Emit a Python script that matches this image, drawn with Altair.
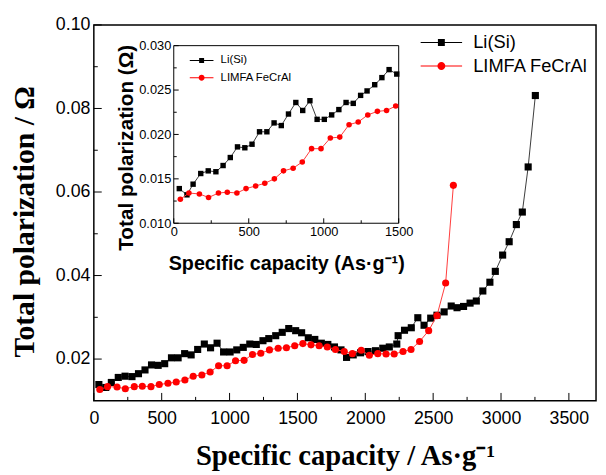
import altair as alt
import pandas as pd

# ---------------- data ----------------
series_names = ["Li(Si)", "LIMFA FeCrAl"]

li_cap = [37, 88, 129, 180, 230, 281, 329, 377, 425, 474,
          522, 572, 621, 669, 717, 765, 814, 860, 908, 956,
          1004, 1053, 1101, 1149, 1197, 1246, 1289, 1340, 1388, 1436,
          1487, 1531, 1580, 1628, 1676, 1724, 1773, 1821, 1862, 1911,
          1965, 2020, 2075, 2129, 2177, 2232, 2242, 2289, 2339, 2387,
          2433, 2482, 2528, 2581, 2633, 2676, 2724, 2772, 2818, 2866,
          2918, 2958, 3012, 3060, 3113, 3157, 3200, 3253]
li_pol = [0.0139, 0.0132, 0.0144, 0.0156, 0.0159, 0.0158, 0.0165, 0.0174, 0.0186, 0.0185,
          0.0189, 0.0203, 0.0203, 0.0213, 0.0210, 0.0223, 0.0236, 0.0227, 0.0238, 0.0217,
          0.0217, 0.0222, 0.0228, 0.0236, 0.0235, 0.0244, 0.0249, 0.0256, 0.0264, 0.0273,
          0.0268, 0.0263, 0.0251, 0.0247, 0.0238, 0.0235, 0.0229, 0.0222, 0.0204, 0.0210,
          0.0215, 0.0218, 0.0220, 0.0226, 0.0229, 0.0236, 0.0256, 0.0269, 0.0275, 0.0299,
          0.0281, 0.0298, 0.0305, 0.0313, 0.0327, 0.0323, 0.0326, 0.0334, 0.0339, 0.0363,
          0.0384, 0.0410, 0.0449, 0.0481, 0.0522, 0.0552, 0.0660, 0.0831]

lm_cap = [44, 101, 171, 232, 298, 357, 421, 482, 546, 607,
          671, 732, 796, 857, 919, 982, 1044, 1107, 1169, 1230,
          1294, 1358, 1419, 1480, 1540, 1600, 1660, 1720, 1780, 1845,
          1905, 1970, 2030, 2092, 2153, 2213, 2278, 2337, 2400, 2467,
          2528, 2592, 2649]
lm_pol = [0.0127, 0.0134, 0.0133, 0.0129, 0.0134, 0.0135, 0.0134, 0.0139, 0.0142, 0.0145,
          0.0150, 0.0159, 0.0162, 0.0169, 0.0184, 0.0184, 0.0196, 0.0197, 0.0211, 0.0214,
          0.0222, 0.0226, 0.0227, 0.0232, 0.0237, 0.0234, 0.0232, 0.0229, 0.0223, 0.0218,
          0.0213, 0.0221, 0.0209, 0.0213, 0.0212, 0.0212, 0.0218, 0.0223, 0.0242, 0.0268,
          0.0304, 0.0382, 0.0616]

main_x_domain = [0, 3700]
main_y_domain = [0.01, 0.10]
x_ticks_main = [0, 500, 1000, 1500, 2000, 2500, 3000, 3500]
x_minor_main = [250, 750, 1250, 1750, 2250, 2750, 3250]
y_ticks_main = [0.02, 0.04, 0.06, 0.08, 0.10]
y_minor_main = [0.03, 0.05, 0.07, 0.09]

inset_x_domain = [0, 1500]
inset_y_domain = [0.010, 0.030]
x_ticks_inset = [0, 500, 1000, 1500]
x_minor_inset = [250, 750, 1250]
y_ticks_inset = [0.010, 0.015, 0.020, 0.025, 0.030]
y_minor_inset = [0.0125, 0.0175, 0.0225, 0.0275]

# ---------------- layout / style ----------------
W, H = 509, 381
INSET_X_RANGE = [81, 309]
INSET_Y_RANGE = [201, 21]
BLACK, RED = "#000000", "#ff0000"
BLACK_LINE, RED_LINE = "#3a3a3a", "#ff3b3b"
SANS, SERIF = "Liberation Sans", "Liberation Serif"

df = pd.DataFrame({
    "cap": li_cap + lm_cap,
    "pol": li_pol + lm_pol,
    "series": [series_names[0]] * len(li_cap) + [series_names[1]] * len(lm_cap),
})
f_li = alt.datum.series == series_names[0]
f_lm = alt.datum.series == series_names[1]

# ---------------- main plot ----------------
xs_main = alt.Scale(domain=main_x_domain, nice=False, zero=False)
ys_main = alt.Scale(domain=main_y_domain, nice=False, zero=False)
ax_main_x = alt.Axis(values=x_ticks_main, format="d", title="Specific capacity / As·g⁻¹",
                     labelFont=SANS, labelFontSize=18, labelColor="black", labelPadding=9,
                     labelFlush=False, labelOverlap=False, ticks=False, domain=False, grid=False,
                     titleFont=SERIF, titleFontSize=29, titleFontWeight="bold", titleColor="black",
                     titleY=65, titleBaseline="alphabetic")
ax_main_y = alt.Axis(values=y_ticks_main, format=".2f", title="Total polarization / Ω",
                     labelFont=SANS, labelFontSize=18, labelColor="black", labelPadding=4,
                     labelOverlap=False, ticks=False, domain=False, grid=False,
                     titleFont=SERIF, titleFontSize=30, titleFontWeight="bold", titleColor="black",
                     titleX=-70, titleY=199, titleBaseline="middle", titleAlign="center", titleAngle=-90)
xm = alt.X("cap:Q", scale=xs_main, axis=ax_main_x)
ym = alt.Y("pol:Q", scale=ys_main, axis=ax_main_y)

base = alt.Chart(df)
m_li_line = base.transform_filter(f_li).mark_line(color=BLACK_LINE, strokeWidth=1).encode(x=xm, y=ym)
m_li_pts = base.transform_filter(f_li).mark_square(color=BLACK, size=52, opacity=1).encode(x=xm, y=ym)
m_lm_line = base.transform_filter(f_lm).mark_line(color=RED_LINE, strokeWidth=1).encode(x=xm, y=ym)
m_lm_pts = base.transform_filter(f_lm).mark_circle(color=RED, size=52, opacity=1).encode(x=xm, y=ym)

m_xt = alt.Chart(pd.DataFrame({"cap": x_ticks_main})).mark_rule(color="black", strokeWidth=1).encode(
    x=xm, y=alt.value(H), y2=alt.value(H - 8))
m_xt2 = alt.Chart(pd.DataFrame({"cap": x_minor_main})).mark_rule(color="black", strokeWidth=1).encode(
    x=xm, y=alt.value(H), y2=alt.value(H - 4))
m_yt = alt.Chart(pd.DataFrame({"pol": y_ticks_main})).mark_rule(color="black", strokeWidth=1).encode(
    y=ym, x=alt.value(0), x2=alt.value(8))
m_yt2 = alt.Chart(pd.DataFrame({"pol": y_minor_main})).mark_rule(color="black", strokeWidth=1).encode(
    y=ym, x=alt.value(0), x2=alt.value(4))

# legend symbols: a line segment with the marker in the middle
SQ_MAIN = "M-6,-0.15 H6 V0.15 H-6 Z M-1,-1 H1 V1 H-1 Z"
CI_MAIN = "M-6,-0.15 H6 V0.15 H-6 Z M1.15,0 A1.15,1.15 0 1,1 -1.15,0 A1.15,1.15 0 1,1 1.15,0 Z"
leg_main = alt.Legend(orient="none", legendX=343, legendY=8.5, direction="vertical", title=None,
                      symbolSize=49, symbolStrokeWidth=0, labelFont=SANS, labelFontSize=18.5,
                      labelColor="black", labelOffset=23, rowPadding=4.8, padding=0)
m_leg = base.transform_filter("false").mark_point(filled=True, opacity=1).encode(
    color=alt.Color("series:N", scale=alt.Scale(domain=series_names, range=[BLACK, RED]), legend=leg_main),
    shape=alt.Shape("series:N", scale=alt.Scale(domain=series_names, range=[SQ_MAIN, CI_MAIN]), legend=leg_main),
)

main = alt.layer(m_li_line, m_li_pts, m_lm_line, m_lm_pts, m_xt, m_xt2, m_yt, m_yt2, m_leg)

# ---------------- inset ----------------
xs_in = alt.Scale(domain=inset_x_domain, range=INSET_X_RANGE, nice=False, zero=False)
ys_in = alt.Scale(domain=inset_y_domain, range=INSET_Y_RANGE, nice=False, zero=False)
ax_in_x = alt.Axis(orient="bottom", offset=-(H - INSET_Y_RANGE[0]), values=x_ticks_inset, format="d",
                   title="Specific capacity (As·g⁻¹)",
                   labelFont=SANS, labelFontSize=13, labelColor="black", labelPadding=2,
                   labelFlush=False, labelOverlap=False, ticks=False, domain=False, grid=False,
                   titleFont=SANS, titleFontSize=20, titleFontWeight="bold", titleColor="black",
                   titleY=47, titleBaseline="alphabetic")
ax_in_y = alt.Axis(orient="left", offset=-INSET_X_RANGE[0], values=y_ticks_inset, format=".3f",
                   title="Total polarization (Ω)",
                   labelFont=SANS, labelFontSize=13, labelColor="black", labelPadding=3,
                   labelOverlap=False, ticks=False, domain=False, grid=False,
                   titleFont=SANS, titleFontSize=21, titleFontWeight="bold", titleColor="black",
                   titleX=-48, titleY=124, titleBaseline="middle", titleAlign="center", titleAngle=-90)
xi = alt.X("cap:Q", scale=xs_in, axis=ax_in_x)
yi = alt.Y("pol:Q", scale=ys_in, axis=ax_in_y)

frame_df = pd.DataFrame({"cap": [inset_x_domain[0]], "cap2": [inset_x_domain[1]],
                         "pol": [inset_y_domain[0]], "pol2": [inset_y_domain[1]]})
i_frame = alt.Chart(frame_df).mark_rect(fill="white", stroke="black", strokeWidth=1).encode(
    x=xi, x2="cap2:Q", y=yi, y2="pol2:Q")
ib = base.transform_filter(alt.datum.cap <= inset_x_domain[1])
i_li_line = ib.transform_filter(f_li).mark_line(color=BLACK_LINE, strokeWidth=1).encode(x=xi, y=yi)
i_li_pts = ib.transform_filter(f_li).mark_square(color=BLACK, size=30, opacity=1).encode(x=xi, y=yi)
i_lm_line = ib.transform_filter(f_lm).mark_line(color=RED_LINE, strokeWidth=1).encode(x=xi, y=yi)
i_lm_pts = ib.transform_filter(f_lm).mark_circle(color=RED, size=32, opacity=1).encode(x=xi, y=yi)

yb = INSET_Y_RANGE[0]
xl = INSET_X_RANGE[0]
i_xt = alt.Chart(pd.DataFrame({"cap": x_ticks_inset})).mark_rule(color="black", strokeWidth=1).encode(
    x=xi, y=alt.value(yb), y2=alt.value(yb - 5))
i_xt2 = alt.Chart(pd.DataFrame({"cap": x_minor_inset})).mark_rule(color="black", strokeWidth=1).encode(
    x=xi, y=alt.value(yb), y2=alt.value(yb - 3))
i_yt = alt.Chart(pd.DataFrame({"pol": y_ticks_inset})).mark_rule(color="black", strokeWidth=1).encode(
    y=yi, x=alt.value(xl), x2=alt.value(xl + 5))
i_yt2 = alt.Chart(pd.DataFrame({"pol": y_minor_inset})).mark_rule(color="black", strokeWidth=1).encode(
    y=yi, x=alt.value(xl), x2=alt.value(xl + 3))

SQ_IN = "M-4.8,-0.2 H4.8 V0.2 H-4.8 Z M-1,-1 H1 V1 H-1 Z"
CI_IN = "M-4.8,-0.2 H4.8 V0.2 H-4.8 Z M1.2,0 A1.2,1.2 0 1,1 -1.2,0 A1.2,1.2 0 1,1 1.2,0 Z"
leg_in = alt.Legend(orient="none", legendX=103.5, legendY=30.3, direction="vertical", title=None,
                    symbolSize=25, symbolStrokeWidth=0, labelFont=SANS, labelFontSize=11.5,
                    labelColor="black", labelOffset=13.5, rowPadding=4.5, padding=0)
i_leg = base.transform_filter("false").mark_point(filled=True, opacity=1).encode(
    color=alt.Color("series:N", scale=alt.Scale(domain=series_names, range=[BLACK, RED]), legend=leg_in),
    shape=alt.Shape("series:N", scale=alt.Scale(domain=series_names, range=[SQ_IN, CI_IN]), legend=leg_in),
)

inset = alt.layer(i_frame, i_li_line, i_li_pts, i_lm_line, i_lm_pts, i_xt, i_xt2, i_yt, i_yt2, i_leg)

chart = (
    alt.layer(main, inset)
    .resolve_scale(x="independent", y="independent", color="independent", shape="independent")
    .resolve_axis(x="independent", y="independent")
    .resolve_legend(color="independent", shape="independent")
    .properties(width=W, height=H,
                padding={"left": 87, "top": 14, "right": 2, "bottom": 72},
                autosize=alt.AutoSizeParams(type="none"),
                background="white")
    .configure_view(stroke="black", strokeWidth=1.5)
)

chart.save("out.html", embed_options={"renderer": "svg", "actions": False})
